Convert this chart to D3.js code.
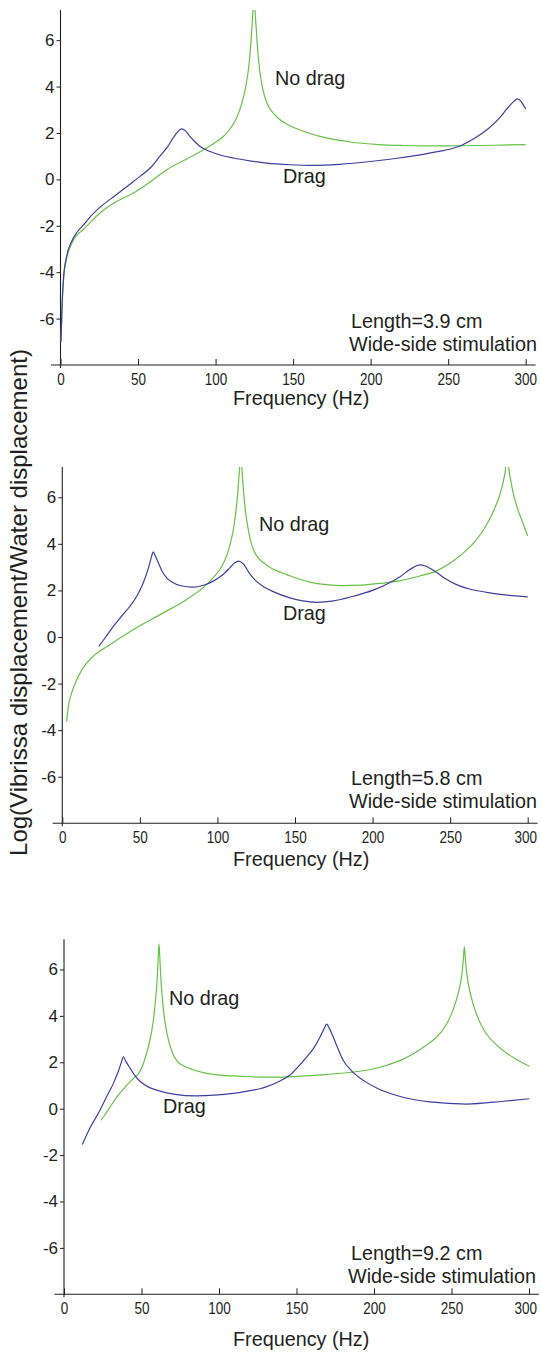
<!DOCTYPE html>
<html>
<head>
<meta charset="utf-8">
<script src="https://cdn.jsdelivr.net/npm/d3@7"></script>
<style>
html,body{margin:0;padding:0;background:#fff;}
svg{display:block;}
text{font-family:"Liberation Sans",Arial,sans-serif;fill:#231f20;}
</style>
</head>
<body>
<svg id="chart" width="541" height="1353"></svg>
<script>
// ---------- DATA (frequency Hz, log ratio) ----------
const xTicks = [0, 50, 100, 150, 200, 250, 300];
const yTicks = [-6, -4, -2, 0, 2, 4, 6];
const seriesNames = ["Drag", "No drag"];
const lengths = ["Length=3.9 cm", "Length=5.8 cm", "Length=9.2 cm"];
const stimLabel = "Wide-side stimulation";
const xTitle = "Frequency (Hz)";
const yTitle = "Log(Vibrissa displacement/Water displacement)";

// Panel 1: length 3.9 cm
const p1Drag = [[0.3,-7.0],[1,-5.4],[2,-4.2],[4,-3.3],[7,-2.7],[10.4,-2.3],[15,-1.95],[20,-1.55],[25.5,-1.2],[36,-0.66],[45,-0.2],[51.3,0.13],[58,0.5],[64,0.99],[69,1.4],[72.8,1.8],[76,2.08],[78.2,2.18],[80.5,2.1],[83.5,1.85],[87,1.6],[90,1.42],[96.5,1.2],[104,1.03],[111.5,0.92],[122,0.8],[133,0.7],[148,0.63],[163,0.6],[180,0.65],[199.7,0.77],[216,0.9],[232,1.06],[245,1.22],[251,1.3],[258,1.45],[264,1.65],[270,1.9],[275,2.14],[281,2.5],[285.7,2.86],[290,3.2],[293,3.4],[294.7,3.47],[296.5,3.4],[298.5,3.2],[300,3.04]];
const p1NoDrag = [[0.3,-7.0],[1,-5.6],[2,-4.3],[4,-3.4],[7,-2.8],[10,-2.45],[15,-2.15],[20,-1.8],[25.5,-1.45],[35,-1.0],[47,-0.59],[58,-0.1],[68.5,0.42],[81.4,0.88],[94.3,1.35],[100,1.6],[105,1.85],[109,2.15],[112,2.45],[114.5,2.8],[116.8,3.25],[119,3.85],[120.5,4.4],[121.8,5.1],[122.9,6.0],[123.8,6.9],[124.4,7.6],[124.8,8.0],[125.2,7.6],[125.8,6.9],[126.7,6.0],[127.8,5.1],[129.1,4.4],[130.6,3.85],[132.5,3.4],[135,3.05],[138,2.8],[141.6,2.57],[146,2.38],[152.4,2.18],[160,2.0],[167.4,1.85],[178,1.7],[189,1.59],[205,1.5],[221,1.46],[240,1.44],[260,1.45],[280,1.47],[300,1.5]];

// Panel 2: length 5.8 cm
const p2Drag = [[23.6,-0.4],[28,0.0],[32.9,0.46],[38,0.88],[43.6,1.32],[48,1.75],[52.2,2.33],[55,2.85],[56.5,3.19],[57.7,3.5],[58.6,3.66],[59.8,3.5],[61.9,3.19],[64.5,2.8],[67.3,2.54],[71,2.35],[75.8,2.21],[84.4,2.14],[91,2.22],[97.3,2.4],[103,2.65],[108,2.97],[111,3.18],[113.6,3.26],[116.5,3.15],[121,2.7],[125,2.4],[130,2.15],[136,1.95],[146.7,1.68],[155,1.55],[163.9,1.49],[175,1.55],[187.5,1.75],[200,2.0],[211,2.33],[218,2.6],[224,2.9],[228,3.05],[230.9,3.1],[234,3.05],[241.2,2.78],[247,2.5],[254.1,2.25],[263,2.05],[273.5,1.92],[287,1.8],[300,1.72]];
const p2NoDrag = [[2.8,-3.64],[4,-2.95],[6,-2.41],[8.5,-1.95],[11.4,-1.55],[15,-1.18],[20,-0.83],[30.7,-0.33],[45.7,0.31],[63,0.96],[80.2,1.61],[93,2.25],[98,2.6],[101.6,2.9],[104.5,3.25],[107,3.7],[109,4.2],[110.7,4.8],[112,5.45],[113.1,6.2],[114,7.0],[114.6,7.6],[115,7.9],[115.4,7.6],[116,7.0],[116.9,6.2],[118,5.45],[119.4,4.8],[121.1,4.2],[123.2,3.75],[126,3.42],[130,3.18],[133.8,3.0],[138,2.85],[144.6,2.68],[152,2.5],[159.6,2.36],[170,2.25],[181,2.21],[193,2.23],[204.7,2.3],[218,2.42],[230.5,2.62],[241,2.83],[252,3.26],[260,3.7],[266,4.1],[271,4.55],[275,5.0],[278.5,5.5],[281.5,6.0],[284,6.6],[285.7,7.2],[286.8,7.9],[287.9,7.2],[289.4,6.6],[291.3,6.0],[293.5,5.5],[296.3,5.0],[300,4.34]];

// Panel 3: length 9.2 cm
const p3Drag = [[11.8,-1.54],[17,-0.8],[23.2,-0.07],[27,0.45],[31.8,1.08],[35,1.6],[37,2.0],[38.3,2.23],[39.8,2.05],[42.6,1.75],[45.5,1.45],[49,1.18],[54,0.95],[59.8,0.8],[70.5,0.63],[85.6,0.55],[97,0.58],[109.2,0.66],[120,0.78],[126.5,0.86],[130.8,0.95],[138,1.15],[145.8,1.45],[151,1.8],[156.6,2.23],[161,2.6],[165.2,3.09],[167.8,3.45],[169.5,3.64],[171.3,3.45],[173.7,3.09],[177,2.55],[180.2,2.08],[186,1.6],[193.1,1.22],[203,0.85],[214.6,0.57],[236.1,0.29],[259.8,0.2],[283.4,0.32],[300.2,0.43]];
const p3NoDrag = [[23.9,-0.5],[28,-0.1],[34,0.5],[39,0.9],[44.7,1.3],[49,1.6],[52,2.1],[54.5,2.7],[56.5,3.3],[58,4.0],[59.2,4.8],[60.1,5.6],[60.7,6.4],[61.3,7.1],[61.9,6.4],[62.5,5.6],[63.4,4.8],[64.6,4.0],[66.3,3.3],[68,2.8],[70,2.4],[73,2.05],[77,1.85],[83.4,1.68],[92,1.52],[100.6,1.45],[113,1.4],[126.5,1.36],[140,1.36],[154.4,1.41],[170,1.48],[186.6,1.58],[200,1.72],[208.2,1.87],[217,2.08],[225.4,2.37],[233,2.7],[240.4,3.09],[245.5,3.5],[249.5,4.0],[252.5,4.55],[254.8,5.1],[256.5,5.7],[257.6,6.4],[258.3,6.97],[259,6.4],[260.1,5.7],[261.7,5.1],[263.8,4.55],[266.5,4.0],[270,3.5],[274,3.1],[279,2.75],[285,2.42],[292,2.12],[300.2,1.83]];

// ---------- LAYOUT ----------
const panels = [
  {drag:p1Drag, nodrag:p1NoDrag, len:lengths[0], xr:[60.5,525.7], yr:[365,10],
   noDragPos:[275,85], dragPos:[283,183], lenPos:[351,328], stimPos:[349,351], xTitleY:405},
  {drag:p2Drag, nodrag:p2NoDrag, len:lengths[1], xr:[62.3,527.7], yr:[823.3,467],
   noDragPos:[259,531], dragPos:[283,620], lenPos:[351,785], stimPos:[349,808], xTitleY:866},
  {drag:p3Drag, nodrag:p3NoDrag, len:lengths[2], xr:[64,529], yr:[1294.3,939.3],
   noDragPos:[169,1005], dragPos:[163,1113], lenPos:[351,1260], stimPos:[348,1283], xTitleY:1346}
];
const colDrag = "#3d3f9d";
const colNoDrag = "#66c244";
const ink = "#231f20";
const fontStack = '"Liberation Sans",Arial,sans-serif';
const charW = 7.5;
const pageRight = 536.5;

const svg = d3.select("#chart");
const defs = svg.append("defs");

panels.forEach((p, i) => {
  const x = d3.scaleLinear().domain([0, 300]).range(p.xr);
  const y = d3.scaleLinear().domain([-8, 7.3]).range(p.yr);
  const g = svg.append("g");

  const clipId = "clip" + i;
  defs.append("clipPath").attr("id", clipId).append("rect")
    .attr("x", x(-6)).attr("y", y(7.3)).attr("width", x(306) - x(-6)).attr("height", y(-8) - y(7.3));

  // x axis
  const xa = g.append("g").attr("transform", `translate(0,${y(-8)})`)
    .call(d3.axisBottom(x).tickValues(xTicks).tickFormat(d => String(d))
      .tickSizeInner(-6).tickSizeOuter(0).tickPadding(0));
  xa.select(".domain").remove();
  xa.append("line").attr("x1", x(-6.2)).attr("x2", x(306.4)).attr("stroke", ink).attr("stroke-width", 1.1);
  xa.selectAll(".tick line").attr("stroke", ink).attr("stroke-width", 1);
  xa.selectAll(".tick text").attr("y", 20).attr("dy", 0).attr("font-size", 16.5)
    .style("font-family", fontStack).attr("fill", ink)
    .attr("textLength", d => String(d).length * charW).attr("lengthAdjust", "spacingAndGlyphs")
    .each(function(d) {
      const half = String(d).length * charW / 2;
      const over = x(d) + half - pageRight;
      if (over > 0) {
        // keep the last label fully on the page
        d3.select(this).attr("text-anchor", "end").attr("x", half - over);
      }
    });

  // y axis
  const ya = g.append("g").attr("transform", `translate(${x(0)},0)`)
    .call(d3.axisLeft(y).tickValues(yTicks).tickFormat(d => String(d))
      .tickSizeInner(4).tickSizeOuter(0).tickPadding(2));
  ya.select(".domain").remove();
  ya.append("line").attr("y1", y(7.3)).attr("y2", y(-8) + 3).attr("stroke", ink).attr("stroke-width", 1.1);
  ya.selectAll(".tick line").attr("stroke", ink).attr("stroke-width", 1);
  ya.selectAll(".tick text").attr("font-size", 17)
    .style("font-family", fontStack).attr("fill", ink);

  // lines
  const line = d3.line().x(d => x(d[0])).y(d => y(d[1])).curve(d3.curveMonotoneX);
  const lg = g.append("g").attr("clip-path", `url(#${clipId})`);
  lg.append("path").datum(p.nodrag).attr("d", line).attr("fill", "none")
    .attr("stroke", colNoDrag).attr("stroke-width", 1.2);
  lg.append("path").datum(p.drag).attr("d", line).attr("fill", "none")
    .attr("stroke", colDrag).attr("stroke-width", 1.2);

  // labels
  const fs = 19.8;
  g.append("text").attr("x", p.noDragPos[0]).attr("y", p.noDragPos[1]).attr("font-size", fs).text(seriesNames[1]);
  g.append("text").attr("x", p.dragPos[0]).attr("y", p.dragPos[1]).attr("font-size", fs).text(seriesNames[0]);
  g.append("text").attr("x", p.lenPos[0]).attr("y", p.lenPos[1]).attr("font-size", fs).text(p.len);
  g.append("text").attr("x", p.stimPos[0]).attr("y", p.stimPos[1]).attr("font-size", fs).text(stimLabel);
  g.append("text").attr("x", 233).attr("y", p.xTitleY).attr("font-size", 19.8).text(xTitle);
});

// shared y title
svg.append("text")
  .attr("transform", "translate(27,602.5) rotate(-90)")
  .attr("text-anchor", "middle").attr("font-size", 24).text(yTitle);
</script>
</body>
</html>
